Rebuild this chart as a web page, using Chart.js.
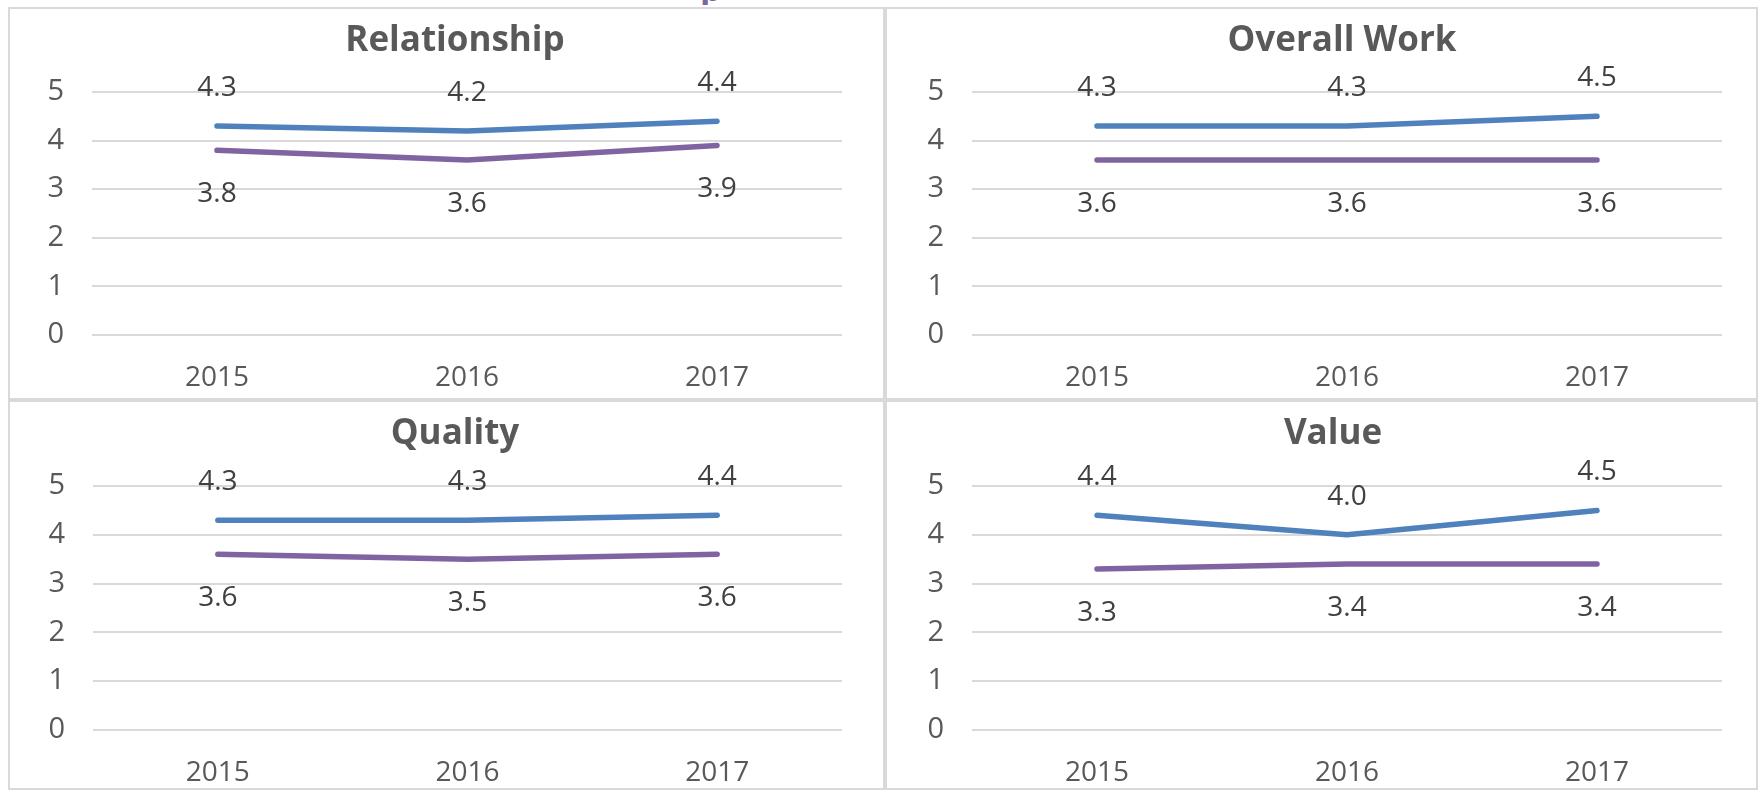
<!DOCTYPE html>
<html>
<head>
<meta charset="utf-8">
<script src="https://cdn.jsdelivr.net/npm/chart.js@4.4.1/dist/chart.umd.min.js"></script>
<style>
  body { margin: 0; background: #fff; width: 1760px; height: 790px; overflow: hidden; position: relative; font-family: 'Open Sans', sans-serif; }
  .panel { position: absolute; box-sizing: border-box; border: 2px solid #d9d9d9; pointer-events: none; }
  canvas { position: absolute; }
  #cut { position: absolute; left: 700px; top: 0; height: 5px; width: 20px; overflow: hidden; }
  #cut span { position: absolute; top: -32px; left: 0; font: bold 34px 'Open Sans'; color: #8064a2; line-height: 40px; }
</style>
</head>
<body>
<div id="cut"><span>p</span></div>
<canvas id="c1"></canvas>
<canvas id="c2"></canvas>
<canvas id="c3"></canvas>
<canvas id="c4"></canvas>
<script>
// years on the x axis, two series per panel (blue = upper, purple = lower)
const years = ['2015', '2016', '2017'];

const relationshipBlue   = [4.3, 4.2, 4.4];
const relationshipPurple = [3.8, 3.6, 3.9];
const overallBlue        = [4.3, 4.3, 4.5];
const overallPurple      = [3.6, 3.6, 3.6];
const qualityBlue        = [4.3, 4.3, 4.4];
const qualityPurple      = [3.6, 3.5, 3.6];
const valueBlue          = [4.4, 4.0, 4.5];
const valuePurple        = [3.3, 3.4, 3.4];

const Y_MIN = 0;
const Y_MAX = 5;

const BLUE = '#4f81bd';
const PURPLE = '#8064a2';
const FONT = "'Open Sans'";

// value labels: blue above the point, purple below
const valueLabels = {
    id: 'valueLabels',
    afterDatasetsDraw(chart) {
        const ctx = chart.ctx;
        ctx.save();
        ctx.font = '28px ' + FONT;
        ctx.fillStyle = '#404040';
        ctx.textAlign = 'center';
        ctx.textBaseline = 'middle';
        chart.data.datasets.forEach((ds, i) => {
            const off = i === 0 ? -38 : 44;
            chart.getDatasetMeta(i).data.forEach((pt, j) => {
                ctx.fillText(ds.data[j].toFixed(1), pt.x, pt.y + off);
            });
        });
        ctx.restore();
    }
};

// panel title, centred on the panel rather than on the plot area
const panelTitle = {
    id: 'panelTitle',
    afterDraw(chart, args, opts) {
        const ctx = chart.ctx;
        ctx.save();
        ctx.font = 'bold 35px ' + FONT;
        ctx.fillStyle = '#595959';
        ctx.textAlign = 'center';
        ctx.textBaseline = 'middle';
        ctx.fillText(opts.text, opts.x, opts.y);
        ctx.restore();
    }
};

function drawPanel(id, box, title, blue, purple) {
    const cv = document.getElementById(id);
    cv.style.left = box.left + 'px';
    cv.style.top = box.top + 'px';
    cv.width = box.w;
    cv.height = box.h;

    const border = document.createElement('div');
    border.className = 'panel';
    border.style.left = box.left + 'px';
    border.style.top = box.top + 'px';
    border.style.width = box.w + 'px';
    border.style.height = box.h + 'px';
    document.body.appendChild(border);

    const chartBottom = box.chartTop + box.plotH;

    new Chart(cv.getContext('2d'), {
        type: 'line',
        data: {
            labels: years,
            datasets: [
                {
                    label: 'Series 1',
                    data: blue,
                    borderColor: BLUE,
                    backgroundColor: BLUE,
                    borderWidth: 5.5,
                    borderCapStyle: 'round',
                    borderJoinStyle: 'round',
                    pointRadius: 0,
                    tension: 0
                },
                {
                    label: 'Series 2',
                    data: purple,
                    borderColor: PURPLE,
                    backgroundColor: PURPLE,
                    borderWidth: 5.5,
                    borderCapStyle: 'round',
                    borderJoinStyle: 'round',
                    pointRadius: 0,
                    tension: 0
                }
            ]
        },
        options: {
            responsive: false,
            animation: false,
            layout: {
                padding: { left: 0, right: box.w - box.chartR, top: box.chartTop, bottom: 0 }
            },
            plugins: {
                legend: { display: false },
                tooltip: { enabled: false },
                title: { display: false },
                panelTitle: { text: title, x: box.titleX, y: box.titleY }
            },
            scales: {
                x: {
                    offset: true,
                    grid: { display: false },
                    border: { display: false },
                    ticks: {
                        color: '#595959',
                        font: { family: FONT, size: 28 },
                        padding: 18,
                        maxRotation: 0
                    },
                    afterFit(scale) { scale.height = box.h - chartBottom; }
                },
                y: {
                    min: Y_MIN,
                    max: Y_MAX,
                    grid: { color: '#d9d9d9', lineWidth: 2, drawTicks: false },
                    border: { display: false },
                    ticks: {
                        stepSize: 1,
                        color: '#595959',
                        font: { family: FONT, size: 29 },
                        padding: 28
                    },
                    afterFit(scale) { scale.width = box.chartL; }
                }
            }
        },
        plugins: [valueLabels, panelTitle]
    });
}

drawPanel('c1', { left: 8,   top: 7,   w: 877, h: 393, chartL: 84, chartR: 834, chartTop: 85, plotH: 243, titleY: 34, titleX: 447 },
    'Relationship', relationshipBlue, relationshipPurple);
drawPanel('c2', { left: 885, top: 7,   w: 873, h: 393, chartL: 87, chartR: 837, chartTop: 85, plotH: 243, titleY: 34, titleX: 457 },
    'Overall Work', overallBlue, overallPurple);
drawPanel('c3', { left: 8,   top: 400, w: 877, h: 390, chartL: 85, chartR: 834, chartTop: 86, plotH: 244, titleY: 34, titleX: 447 },
    'Quality', qualityBlue, qualityPurple);
drawPanel('c4', { left: 885, top: 400, w: 873, h: 390, chartL: 87, chartR: 837, chartTop: 86, plotH: 244, titleY: 34, titleX: 448 },
    'Value', valueBlue, valuePurple);
</script>
</body>
</html>
